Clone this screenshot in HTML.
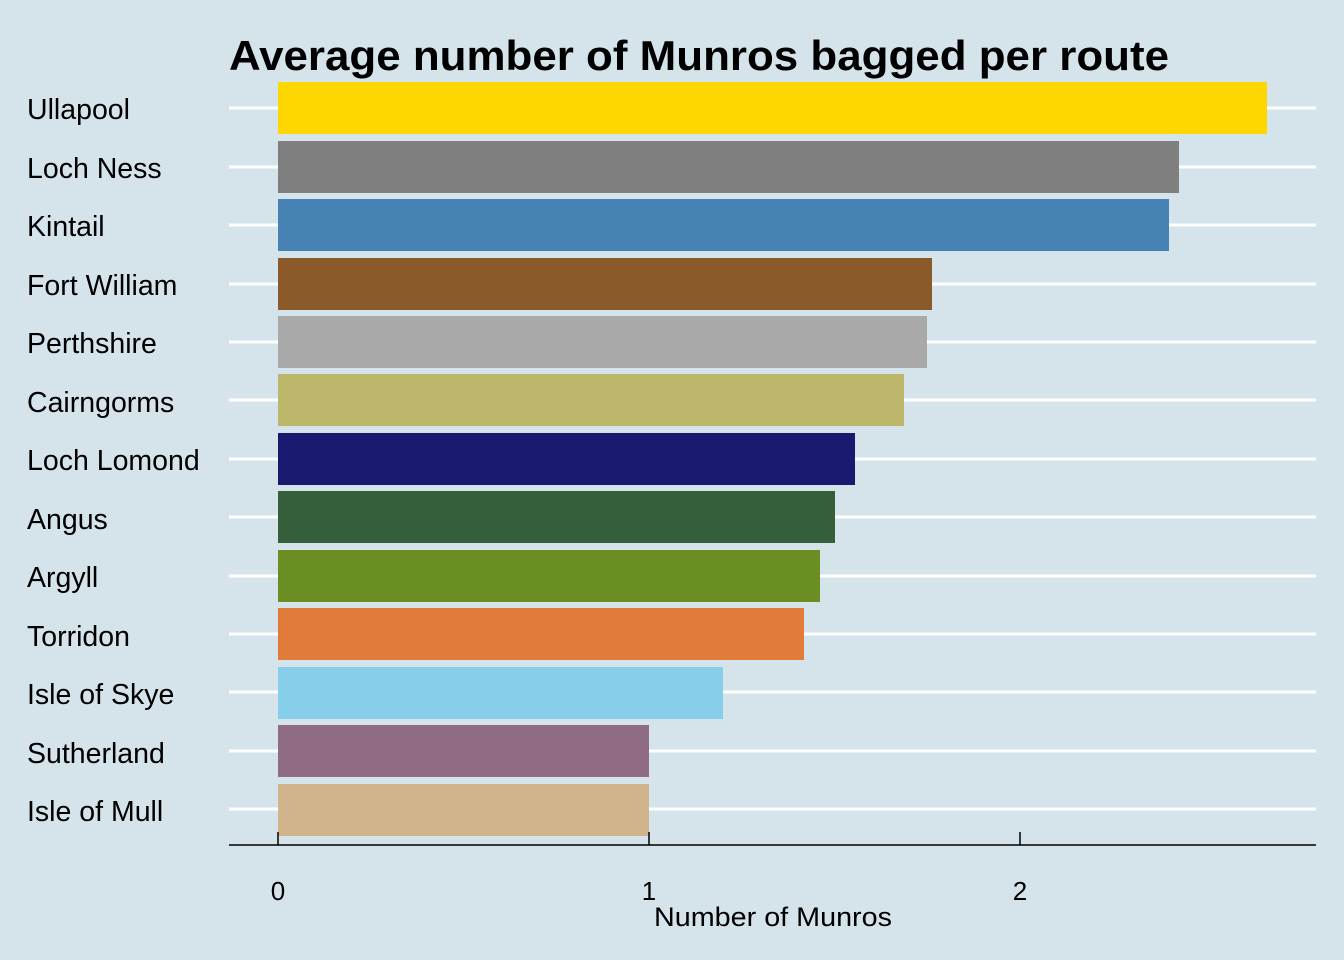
<!DOCTYPE html>
<html><head><style>
html,body{margin:0;padding:0;background:#d5e4eb;overflow:hidden;}
svg{display:block;}
</style></head><body>
<svg width="1344" height="960" xmlns="http://www.w3.org/2000/svg" font-family="Liberation Sans, Arial, sans-serif">
<rect width="1344" height="960" fill="#d5e4eb"/>
<text x="229" y="70" font-size="42" font-weight="bold" fill="#000" textLength="940" lengthAdjust="spacingAndGlyphs">Average number of Munros bagged per route</text>
<g stroke="#fff" stroke-width="3">
<line x1="229" x2="1316" y1="108" y2="108"/><line x1="229" x2="1316" y1="167" y2="167"/>
<line x1="229" x2="1316" y1="225" y2="225"/><line x1="229" x2="1316" y1="284" y2="284"/>
<line x1="229" x2="1316" y1="342" y2="342"/><line x1="229" x2="1316" y1="400" y2="400"/>
<line x1="229" x2="1316" y1="459" y2="459"/><line x1="229" x2="1316" y1="517" y2="517"/>
<line x1="229" x2="1316" y1="576" y2="576"/><line x1="229" x2="1316" y1="634" y2="634"/>
<line x1="229" x2="1316" y1="692" y2="692"/><line x1="229" x2="1316" y1="751" y2="751"/>
<line x1="229" x2="1316" y1="809" y2="809"/>
</g>
<rect x="278" y="82" width="989" height="52" fill="#ffd700"/>
<rect x="278" y="141" width="901" height="52" fill="#7f7f7f"/>
<rect x="278" y="199" width="891" height="52" fill="#4682b4"/>
<rect x="278" y="258" width="654" height="52" fill="#8b5a2b"/>
<rect x="278" y="316" width="649" height="52" fill="#a9a9a9"/>
<rect x="278" y="374" width="626" height="52" fill="#bdb76b"/>
<rect x="278" y="433" width="577" height="52" fill="#191970"/>
<rect x="278" y="491" width="557" height="52" fill="#355e3b"/>
<rect x="278" y="550" width="542" height="52" fill="#6b8e23"/>
<rect x="278" y="608" width="526" height="52" fill="#e07b39"/>
<rect x="278" y="667" width="445" height="52" fill="#87ceeb"/>
<rect x="278" y="725" width="371" height="52" fill="#8f6b84"/>
<rect x="278" y="784" width="371" height="52" fill="#d2b48c"/>
<g font-size="28.5" fill="#000" dominant-baseline="central">
<text x="27" y="110">Ullapool</text><text x="27" y="169">Loch Ness</text>
<text x="27" y="227">Kintail</text><text x="27" y="286">Fort William</text>
<text x="27" y="344">Perthshire</text><text x="27" y="403">Cairngorms</text>
<text x="27" y="461">Loch Lomond</text><text x="27" y="520">Angus</text>
<text x="27" y="578">Argyll</text><text x="27" y="637">Torridon</text>
<text x="27" y="695">Isle of Skye</text><text x="27" y="754">Sutherland</text>
<text x="27" y="812">Isle of Mull</text>
</g>
<line x1="229" x2="1316" y1="845" y2="845" stroke="#000" stroke-width="1.5"/>
<g stroke="#000" stroke-width="1.5">
<line x1="278" x2="278" y1="832" y2="845"/><line x1="649" x2="649" y1="832" y2="845"/><line x1="1020" x2="1020" y1="832" y2="845"/>
</g>
<g font-size="26" fill="#000" text-anchor="middle">
<text x="278" y="900">0</text><text x="649" y="900">1</text><text x="1020" y="900">2</text>
</g>
<text x="654" y="926" font-size="27" fill="#000" textLength="238" lengthAdjust="spacingAndGlyphs">Number of Munros</text>
</svg>
</body></html>
